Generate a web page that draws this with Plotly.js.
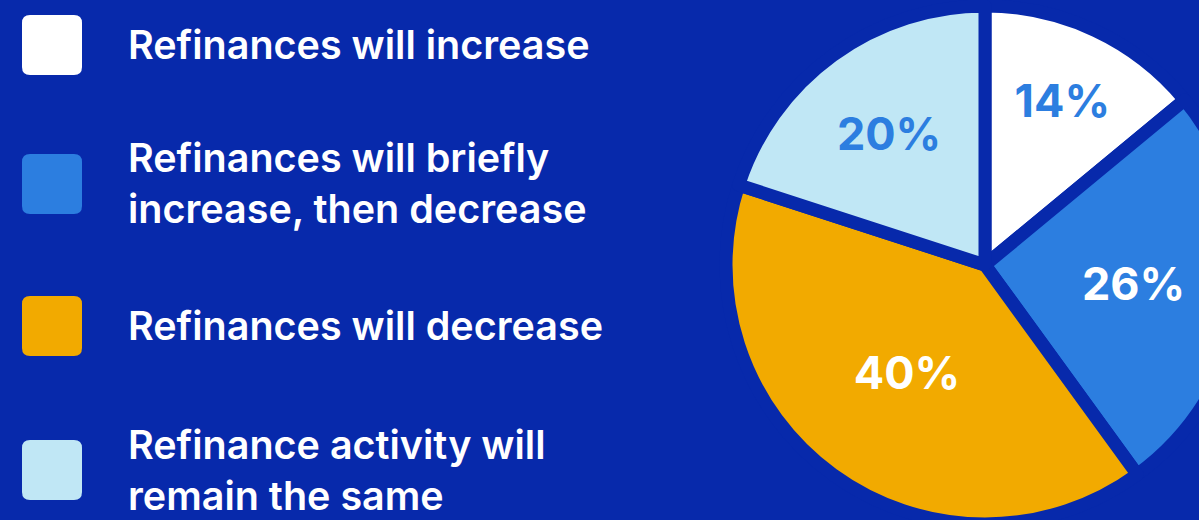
<!DOCTYPE html>
<html>
<head>
<meta charset="utf-8">
<script src="https://cdn.plot.ly/plotly-3.0.1.min.js"></script>
<style>
  html, body { margin: 0; padding: 0; overflow: hidden; background: #0729AB; }
  #chart { width: 1250px; height: 530px; }
</style>
</head>
<body>
<div id="chart"></div>
<script>
// ---- data ----
const categories = [
  "Refinances will increase",
  "Refinances will briefly<br>increase, then decrease",
  "Refinances will decrease",
  "Refinance activity will<br>remain the same"
];
const shares = [14, 26, 40, 20];
const sliceColors = ["#FFFFFF", "#2C7EE0", "#F2AA00", "#C0E7F5"];
const labelColors = ["#2C7EE0", "#FFFFFF", "#FFFFFF", "#2C7EE0"];

// ---- layout helpers ----
const BG = "#0729AB";
const W = 1250, H = 530;
const px = x => x / W;
const py = y => 1 - y / H;

const pie = {
  type: "pie",
  values: shares,
  labels: categories,
  sort: false,
  direction: "clockwise",
  rotation: 0,
  marker: { colors: sliceColors, line: { color: BG, width: 13 } },
  texttemplate: "%{value}%",
  textposition: "inside",
  insidetextorientation: "horizontal",
  textfont: { family: "Inter, 'Noto Sans', sans-serif", size: 45, weight: 700, color: labelColors },
  hoverinfo: "none",
  showlegend: false,
  domain: { x: [px(726), px(1244)], y: [py(524), py(6)] }
};

// legend drawn as rounded swatches + text
const rowCenters = [45, 184, 326, 470];
const shapes = [];
const annotations = [];
const S = 60, R = 8, X0 = 22;
categories.forEach((c, i) => {
  const y0 = rowCenters[i] - S / 2, y1 = rowCenters[i] + S / 2;
  const x0 = X0, x1 = X0 + S;
  const p = [
    `M${px(x0 + R)},${py(y0)}`,
    `L${px(x1 - R)},${py(y0)}`,
    `Q${px(x1)},${py(y0)} ${px(x1)},${py(y0 + R)}`,
    `L${px(x1)},${py(y1 - R)}`,
    `Q${px(x1)},${py(y1)} ${px(x1 - R)},${py(y1)}`,
    `L${px(x0 + R)},${py(y1)}`,
    `Q${px(x0)},${py(y1)} ${px(x0)},${py(y1 - R)}`,
    `L${px(x0)},${py(y0 + R)}`,
    `Q${px(x0)},${py(y0)} ${px(x0 + R)},${py(y0)}`,
    "Z"
  ].join(" ");
  shapes.push({ type: "path", xref: "paper", yref: "paper", path: p,
    fillcolor: sliceColors[i], line: { width: 0 }, layer: "above" });
  annotations.push({
    xref: "paper", yref: "paper", x: px(126), y: py(rowCenters[i]),
    xanchor: "left", yanchor: "middle", align: "left", showarrow: false,
    text: c,
    font: { family: "Inter, 'Noto Sans', sans-serif", size: 39.5, weight: 600, color: "#FFFFFF" }
  });
});

const layout = {
  width: W, height: H,
  margin: { l: 0, r: 0, t: 0, b: 0 },
  paper_bgcolor: BG, plot_bgcolor: BG,
  shapes: shapes, annotations: annotations,
  showlegend: false
};

Plotly.newPlot("chart", [pie], layout, { displayModeBar: false, staticPlot: true });
</script>
</body>
</html>
